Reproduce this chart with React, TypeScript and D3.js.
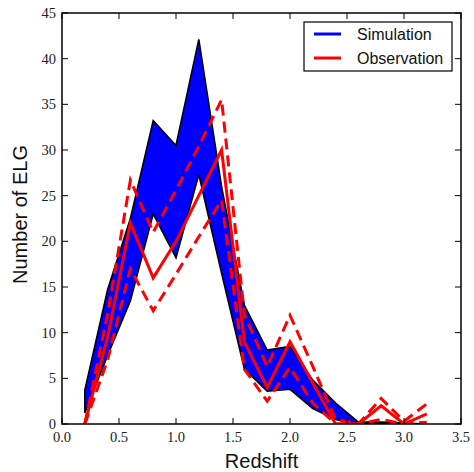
import React from 'react'
import * as d3 from 'd3'

// redshift bins
const redshift = [0.2, 0.4, 0.6, 0.8, 1.0, 1.2, 1.4, 1.6, 1.8, 2.0, 2.2, 2.4, 2.6, 2.8, 3.0, 3.2]
// simulation envelope
const simUpper = [3.7, 14.7, 22.5, 33.2, 30.5, 42.1, 26.0, 13.0, 8.1, 8.5, 4.8, 2.3, 0.2, 0.2, 0.1, 0]
const simLower = [1.2, 7.5, 13.5, 23.0, 18.2, 27.3, 16.5, 6.0, 3.6, 3.8, 1.7, 0.5, 0, 0, 0, 0]
// observation mean and +/- bounds
const obsMean = [0, 9.5, 22.0, 16.0, 20.0, 25.0, 30.0, 9.0, 4.0, 9.0, 4.5, 0, 0, 2.0, 0, 1.1]
const obsUpper = [0, 12.0, 26.7, 21.0, 25.6, 30.4, 35.5, 12.0, 6.3, 11.9, 6.3, 0.5, 0, 2.8, 0.3, 2.2]
const obsLower = [0, 7.0, 17.0, 12.4, 16.4, 20.5, 24.5, 6.0, 2.5, 6.2, 2.3, 0, 0, 0.5, 0, 0.2]

const xTicks = [0.0, 0.5, 1.0, 1.5, 2.0, 2.5, 3.0, 3.5]
const yTicks = [0, 5, 10, 15, 20, 25, 30, 35, 40, 45]
const legendItems = [
  { label: 'Simulation', color: '#0000ff' },
  { label: 'Observation', color: '#ff0000' },
]

const W = 474
const H = 472
const m = { left: 62, right: 13, top: 13, bottom: 48 }

export default function App() {
  const x = d3.scaleLinear().domain([0, 3.5]).range([m.left, W - m.right])
  const y = d3.scaleLinear().domain([0, 45]).range([H - m.bottom, m.top])

  const area = d3
    .area<number>()
    .x((_, i) => x(redshift[i]))
    .y0((_, i) => y(simLower[i]))
    .y1((_, i) => y(simUpper[i]))
  const simPath = area(redshift) + ''

  const line = (vals: number[]) =>
    d3
      .line<number>()
      .x((_, i) => x(redshift[i]))
      .y((d) => y(d))(vals) || ''

  const x0 = x(0)
  const x1 = x(3.5)
  const y0 = y(0)
  const y1 = y(45)
  const tickLen = 6
  const serif = '"Liberation Serif", "DejaVu Serif", serif'
  const sans = '"Liberation Sans", Arial, sans-serif'

  return (
    <svg width={W} height={H} style={{ position: 'absolute', left: 0, top: 0 }}>
      <rect width={W} height={H} fill="#fff" />
      <defs>
        <clipPath id="plot">
          <rect x={x0} y={y1} width={x1 - x0} height={y0 - y1} />
        </clipPath>
      </defs>
      <g clipPath="url(#plot)">
        <path d={simPath} fill="#0000ff" stroke="#000" strokeWidth={1.6} strokeLinejoin="miter" />
        <path d={line(obsUpper)} fill="none" stroke="#ff0000" strokeWidth={3} strokeDasharray="11,6" />
        <path d={line(obsLower)} fill="none" stroke="#ff0000" strokeWidth={3} strokeDasharray="11,6" />
        <path d={line(obsMean)} fill="none" stroke="#ff0000" strokeWidth={3} />
      </g>

      {xTicks.map((t) => (
        <g key={'x' + t}>
          <line x1={x(t)} x2={x(t)} y1={y0} y2={y0 - tickLen} stroke="#000" strokeWidth={1} />
          <line x1={x(t)} x2={x(t)} y1={y1} y2={y1 + tickLen} stroke="#000" strokeWidth={1} />
          <text x={x(t)} y={y0 + 18} textAnchor="middle" fontFamily={serif} fontSize={14.5} fill="#222">
            {t.toFixed(1)}
          </text>
        </g>
      ))}
      {yTicks.map((t) => (
        <g key={'y' + t}>
          <line x1={x0} x2={x0 + tickLen} y1={y(t)} y2={y(t)} stroke="#000" strokeWidth={1} />
          <line x1={x1} x2={x1 - tickLen} y1={y(t)} y2={y(t)} stroke="#000" strokeWidth={1} />
          <text x={x0 - 6} y={y(t) + 5} textAnchor="end" fontFamily={serif} fontSize={14.5} fill="#222">
            {t}
          </text>
        </g>
      ))}

      <rect x={x0} y={y1} width={x1 - x0} height={y0 - y1} fill="none" stroke="#000" strokeWidth={1.5} />

      <text x={(x0 + x1) / 2} y={468} textAnchor="middle" fontFamily={sans} fontSize={20} fill="#111">
        Redshift
      </text>
      <text
        transform={`translate(27,${(y0 + y1) / 2 - 4}) rotate(-90)`}
        textAnchor="middle"
        fontFamily={sans}
        fontSize={20}
        fill="#111"
      >
        Number of ELG
      </text>

      <g>
        <rect x={304} y={22} width={148} height={49} fill="#fff" stroke="#000" strokeWidth={1.2} />
        {legendItems.map((d, i) => (
          <g key={d.label}>
            <line x1={314} x2={341} y1={34 + i * 24} y2={34 + i * 24} stroke={d.color} strokeWidth={3} />
            <text x={357} y={40 + i * 24} fontFamily={sans} fontSize={16} fill="#111">
              {d.label}
            </text>
          </g>
        ))}
      </g>
    </svg>
  )
}
